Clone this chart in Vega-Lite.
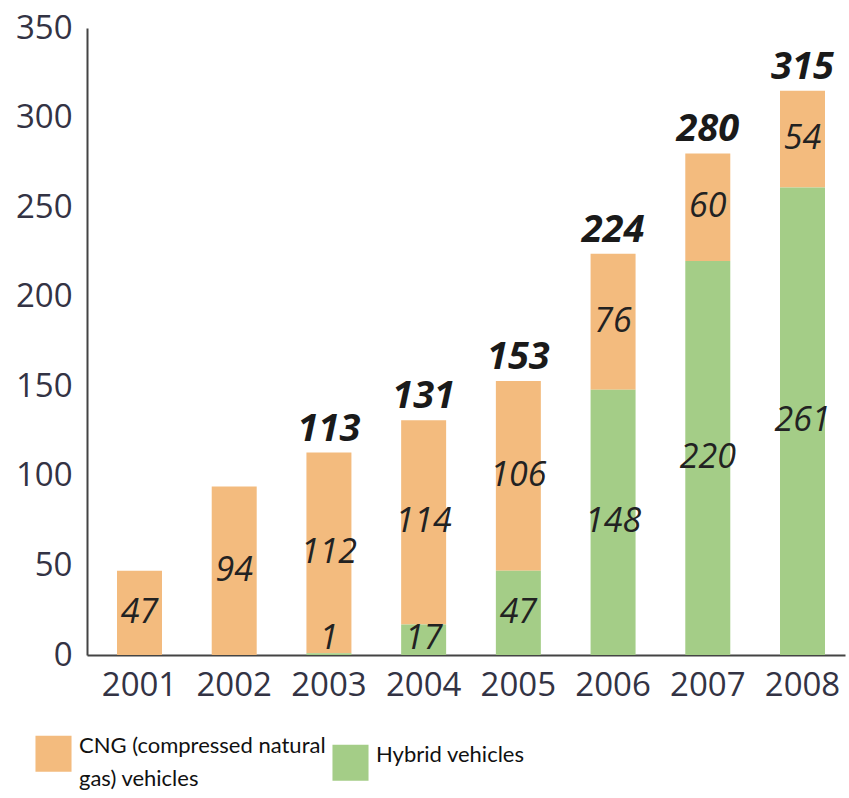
{
  "$schema": "https://vega.github.io/schema/vega-lite/v6.json",
  "autosize": "none",
  "width": 758,
  "height": 627,
  "padding": {"left": 87, "top": 28, "right": 4, "bottom": 143},
  "background": "white",
  "config": {"view": {"stroke": null}},
  "data": {
    "values": [
      {"year": "2001", "type": "CNG (compressed natural gas) vehicles", "value": 47},
      {"year": "2002", "type": "CNG (compressed natural gas) vehicles", "value": 94},
      {"year": "2003", "type": "CNG (compressed natural gas) vehicles", "value": 112},
      {"year": "2003", "type": "Hybrid vehicles", "value": 1},
      {"year": "2004", "type": "CNG (compressed natural gas) vehicles", "value": 114},
      {"year": "2004", "type": "Hybrid vehicles", "value": 17},
      {"year": "2005", "type": "CNG (compressed natural gas) vehicles", "value": 106},
      {"year": "2005", "type": "Hybrid vehicles", "value": 47},
      {"year": "2006", "type": "CNG (compressed natural gas) vehicles", "value": 76},
      {"year": "2006", "type": "Hybrid vehicles", "value": 148},
      {"year": "2007", "type": "CNG (compressed natural gas) vehicles", "value": 60},
      {"year": "2007", "type": "Hybrid vehicles", "value": 220},
      {"year": "2008", "type": "CNG (compressed natural gas) vehicles", "value": 54},
      {"year": "2008", "type": "Hybrid vehicles", "value": 261}
    ]
  },
  "transform": [
    {"stack": "value", "groupby": ["year"], "sort": [{"field": "type", "order": "descending"}], "as": ["v0", "v1"]},
    {"calculate": "max((datum.v0 + datum.v1) / 2, 9)", "as": "mid"}
  ],
  "encoding": {
    "x": {
      "field": "year", "type": "ordinal",
      "scale": {"paddingInner": 0.525, "paddingOuter": 0.264, "align": 0.6},
      "axis": {
        "title": null, "labelAngle": 0, "ticks": false,
        "domainColor": "#444", "domainWidth": 2,
        "labelFont": "Open Sans", "labelFontSize": 33, "labelColor": "#333344",
        "labelPadding": 14
      }
    }
  },
  "layer": [
    {
      "mark": {"type": "bar"},
      "encoding": {
        "y": {
          "field": "v1", "type": "quantitative",
          "scale": {"domain": [0, 350], "nice": false},
          "axis": {
            "title": null, "grid": false, "ticks": false,
            "values": [0, 50, 100, 150, 200, 250, 300, 350],
            "domainColor": "#444", "domainWidth": 2,
            "labelFont": "Open Sans", "labelFontSize": 33, "labelColor": "#333344",
            "labelPadding": 15
          }
        },
        "y2": {"field": "v0"},
        "color": {
          "field": "type", "type": "nominal",
          "scale": {
            "domain": ["CNG (compressed natural gas) vehicles", "Hybrid vehicles"],
            "range": ["#F3BB7E", "#A4CD87"]
          },
          "legend": {
            "title": null,
            "orient": "none",
            "legendX": -52,
            "legendY": 707,
            "direction": "horizontal",
            "columns": 2,
            "columnPadding": 6,
            "symbolType": "square",
            "symbolSize": 1300,
            "symbolStrokeWidth": 0,
            "symbolOpacity": 1,
            "labelFont": "Lato",
            "labelFontSize": 22,
            "labelColor": "#111111",
            "labelOffset": 7,
            "labelBaseline": "top",
            "labelLimit": 400,
            "labelExpr": "datum.label == 'Hybrid vehicles' ? 'Hybrid vehicles' : ['CNG (compressed natural', 'gas) vehicles']",
            "encode": {"labels": {"update": {"dy": {"value": -18}, "lineHeight": {"value": 33}}}}
          }
        }
      }
    },
    {
      "mark": {"type": "text", "font": "Open Sans", "fontStyle": "italic", "fontSize": 34, "color": "#222222", "baseline": "middle"},
      "encoding": {
        "y": {"field": "mid", "type": "quantitative"},
        "text": {"field": "value", "type": "quantitative"}
      }
    },
    {
      "transform": [
        {"aggregate": [{"op": "sum", "field": "value", "as": "total"}], "groupby": ["year"]},
        {"filter": "datum.year >= '2003'"}
      ],
      "mark": {"type": "text", "font": "Open Sans", "fontStyle": "italic", "fontWeight": "bold", "fontSize": 38, "color": "#1a1a1a", "baseline": "bottom", "dy": -4},
      "encoding": {
        "y": {"field": "total", "type": "quantitative"},
        "text": {"field": "total", "type": "quantitative"}
      }
    }
  ]
}
